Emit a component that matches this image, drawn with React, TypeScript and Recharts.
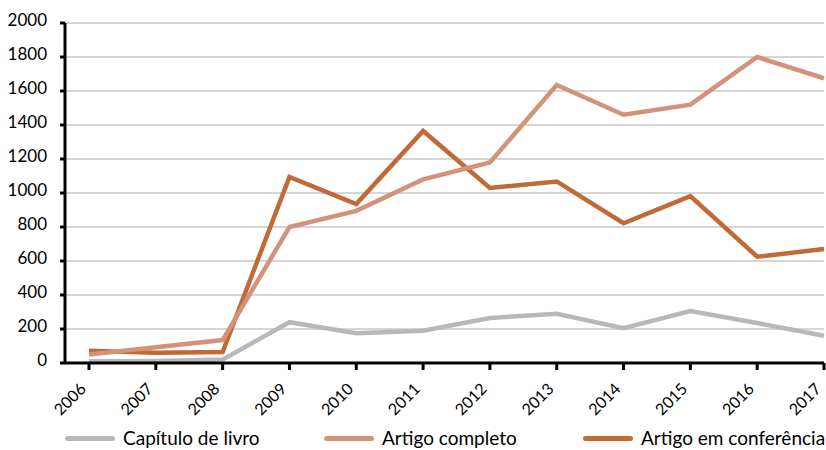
import React from "react";
import { LineChart, Line, XAxis, YAxis, CartesianGrid } from "recharts";

const anos = ["2006", "2007", "2008", "2009", "2010", "2011", "2012", "2013", "2014", "2015", "2016", "2017"];
const capituloLivro = [10, 12, 20, 240, 175, 190, 265, 290, 205, 305, 235, 160];
const artigoCompleto = [50, 92, 135, 800, 895, 1080, 1180, 1635, 1460, 1520, 1800, 1675];
const artigoConferencia = [72, 60, 65, 1095, 935, 1365, 1030, 1068, 822, 982, 625, 670];
const yTicks = [0, 200, 400, 600, 800, 1000, 1200, 1400, 1600, 1800, 2000];

const series = [
  { key: "livro", name: "Capítulo de livro", color: "#b8b8b8" },
  { key: "completo", name: "Artigo completo", color: "#d2937a" },
  { key: "conferencia", name: "Artigo em conferência", color: "#c06a37" },
];

const data = anos.map((ano, i) => ({
  ano,
  livro: capituloLivro[i],
  completo: artigoCompleto[i],
  conferencia: artigoConferencia[i],
}));

const FONT = "Lato, sans-serif";

const XTick = (props: any) => {
  const { x, y, payload } = props;
  return (
    <g transform={`translate(${x - 2},${y + 18})`}>
      <text x={0} y={0} textAnchor="end" transform="rotate(-45)" fill="#000" fontSize={16} fontFamily={FONT}>
        {payload.value}
      </text>
    </g>
  );
};

const App: React.FC = () => {
  return (
    <div style={{ position: "absolute", left: 0, top: 0, width: 826, height: 450, background: "#fff" }}>
      <LineChart
        width={826}
        height={450}
        data={data}
        margin={{ top: 23, right: 2, left: 0, bottom: 37 }}
      >
        <CartesianGrid vertical={false} stroke="#c8c8c8" strokeWidth={1.5} horizontalValues={yTicks.slice(1)} />
        <XAxis
          dataKey="ano"
          padding={{ left: 24, right: 0 }}
          height={50}
          stroke="#000"
          strokeWidth={3}
          tickSize={7}
          tickLine={{ stroke: "#000", strokeWidth: 3 }}
          tick={<XTick />}
          interval={0}
        />
        <YAxis
          width={65}
          domain={[0, 2000]}
          ticks={yTicks}
          interval={0}
          stroke="#000"
          strokeWidth={3}
          tickSize={5}
          tickMargin={13}
          tickLine={{ stroke: "#000", strokeWidth: 3 }}
          tick={{ fill: "#000", fontSize: 17, fontFamily: FONT, dy: -3 }}
        />
        <Line dataKey="livro" name="Capítulo de livro" stroke="#b8b8b8" strokeWidth={4.5} dot={false} isAnimationActive={false} />
        <Line dataKey="conferencia" name="Artigo em conferência" stroke="#c06a37" strokeWidth={4.5} dot={false} isAnimationActive={false} />
        <Line dataKey="completo" name="Artigo completo" stroke="#d2937a" strokeWidth={4.5} dot={false} isAnimationActive={false} />
      </LineChart>
      <div
        style={{
          position: "absolute",
          top: 425,
          left: 65,
          display: "flex",
          fontFamily: FONT,
          fontSize: 19,
          color: "#000",
          lineHeight: "26px",
        }}
      >
        {series.map((s) => (
          <div key={s.key} style={{ display: "flex", alignItems: "center", width: 259, whiteSpace: "nowrap" }}>
            <span style={{ display: "inline-block", width: 50, height: 5, borderRadius: 3, background: s.color, marginRight: 8 }} />
            <span>{s.name}</span>
          </div>
        ))}
      </div>
    </div>
  );
};

export default App;
